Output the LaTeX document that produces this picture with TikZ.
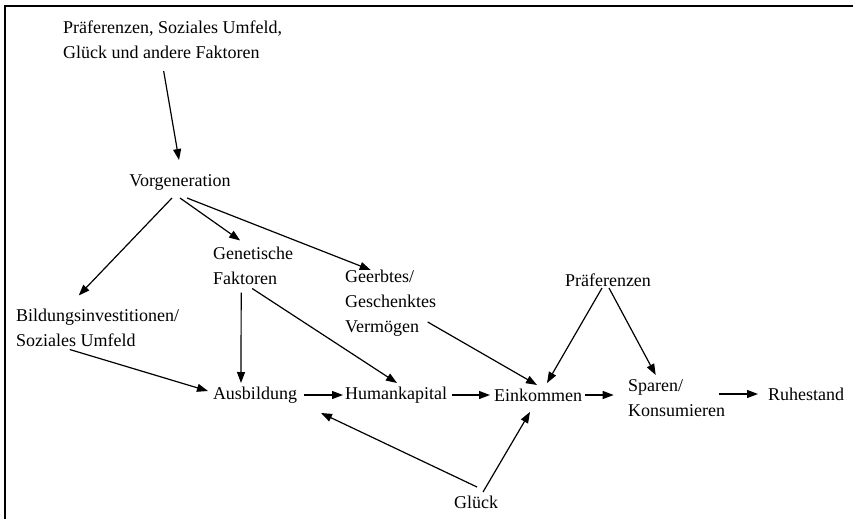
\documentclass[tikz,border=0pt]{standalone}
\usepackage{fontspec}
\setmainfont{Liberation Serif}
\usetikzlibrary{arrows.meta,positioning,calc}

\begin{document}
\begin{tikzpicture}[x=1pt, y=-1pt,
    txt/.style={inner sep=2pt, font=\fontsize{18}{25}\selectfont},
    multi/.style={txt, align=left, anchor=west},
    arr/.style={-{Triangle[length=11pt,width=8pt]}, line width=1.2pt}
]
    \useasboundingbox (0,0) rectangle (853,519);

    % Frame
    \draw[line width=1.6pt] (853,6) -- (5,6) -- (5,519);

    % Nodes
    \node[multi] (top) at (61,40) {Präferenzen, Soziales Umfeld,\\Glück und andere Faktoren};
    \node[txt] (vor) at (180,182) {Vorgeneration};
    \node[multi] (gen) at (211,265.5) {Genetische\\Faktoren};
    \node[multi] (erb) at (343,303) {Geerbtes/\\Geschenktes\\Vermögen};
    \node[multi] (bild) at (14,327.5) {Bildungsinvestitionen/\\Soziales Umfeld};
    \node[txt] (praef) at (608,280) {Präferenzen};
    \node[txt] (ausb) at (255,395) {Ausbildung};
    \node[txt] (human) at (396,395) {Humankapital};
    \node[txt] (eink) at (538,395) {Einkommen};
    \node[multi] (spar) at (626,398) {Sparen/\\Konsumieren};
    \node[txt] (ruhe) at (806,394) {Ruhestand};
    \node[txt] (glueck) at (476,502) {Glück};

    % Arrows
    \draw[arr] ($(top)+(-9,31)$) -- ($(vor)+(-1,-22)$);
    \draw[arr] ($(vor)+(-8,16)$) -- ($(bild)+(-19,-32)$);
    \draw[arr] ($(vor)+(0,16)$) -- ($(gen)+(-13,-25)$);
    \draw[arr] ($(vor)+(7,16)$) -- ($(erb)+(-20,-33)$);
    \draw[arr] ($(gen)+(-12,27)$) -- ($(ausb)+(-14,-12)$);
    \draw[arr] ($(gen)+(-1,23)$) -- ($(human)+(1,-12)$);
    \draw[arr] ($(bild)+(-28,22)$) -- ($(ausb)+(-47,-4)$);
    \draw[arr] ($(ausb)+(49,0)$) -- ($(human)+(-53,0)$);
    \draw[arr] ($(human)+(56,0)$) -- ($(eink)+(-48,0)$);
    \draw[arr] ($(erb)+(37,19)$) -- ($(eink)+(-1,-10)$);
    \draw[arr] ($(praef)+(-6,8)$) -- ($(eink)+(9,-12)$);
    \draw[arr] ($(praef)+(1,8)$) -- ($(spar)+(-21,-23)$);
    \draw[arr] ($(eink)+(47,0)$) -- ($(spar)+(-63,-3)$);
    \draw[arr] ($(spar)+(42,-4)$) -- ($(ruhe)+(-48,0)$);
    \draw[arr] ($(glueck)+(1,-15)$) -- ($(ausb)+(66,18)$);
    \draw[arr] ($(glueck)+(7,-10)$) -- ($(eink)+(-8,17)$);
\end{tikzpicture}
\end{document}
